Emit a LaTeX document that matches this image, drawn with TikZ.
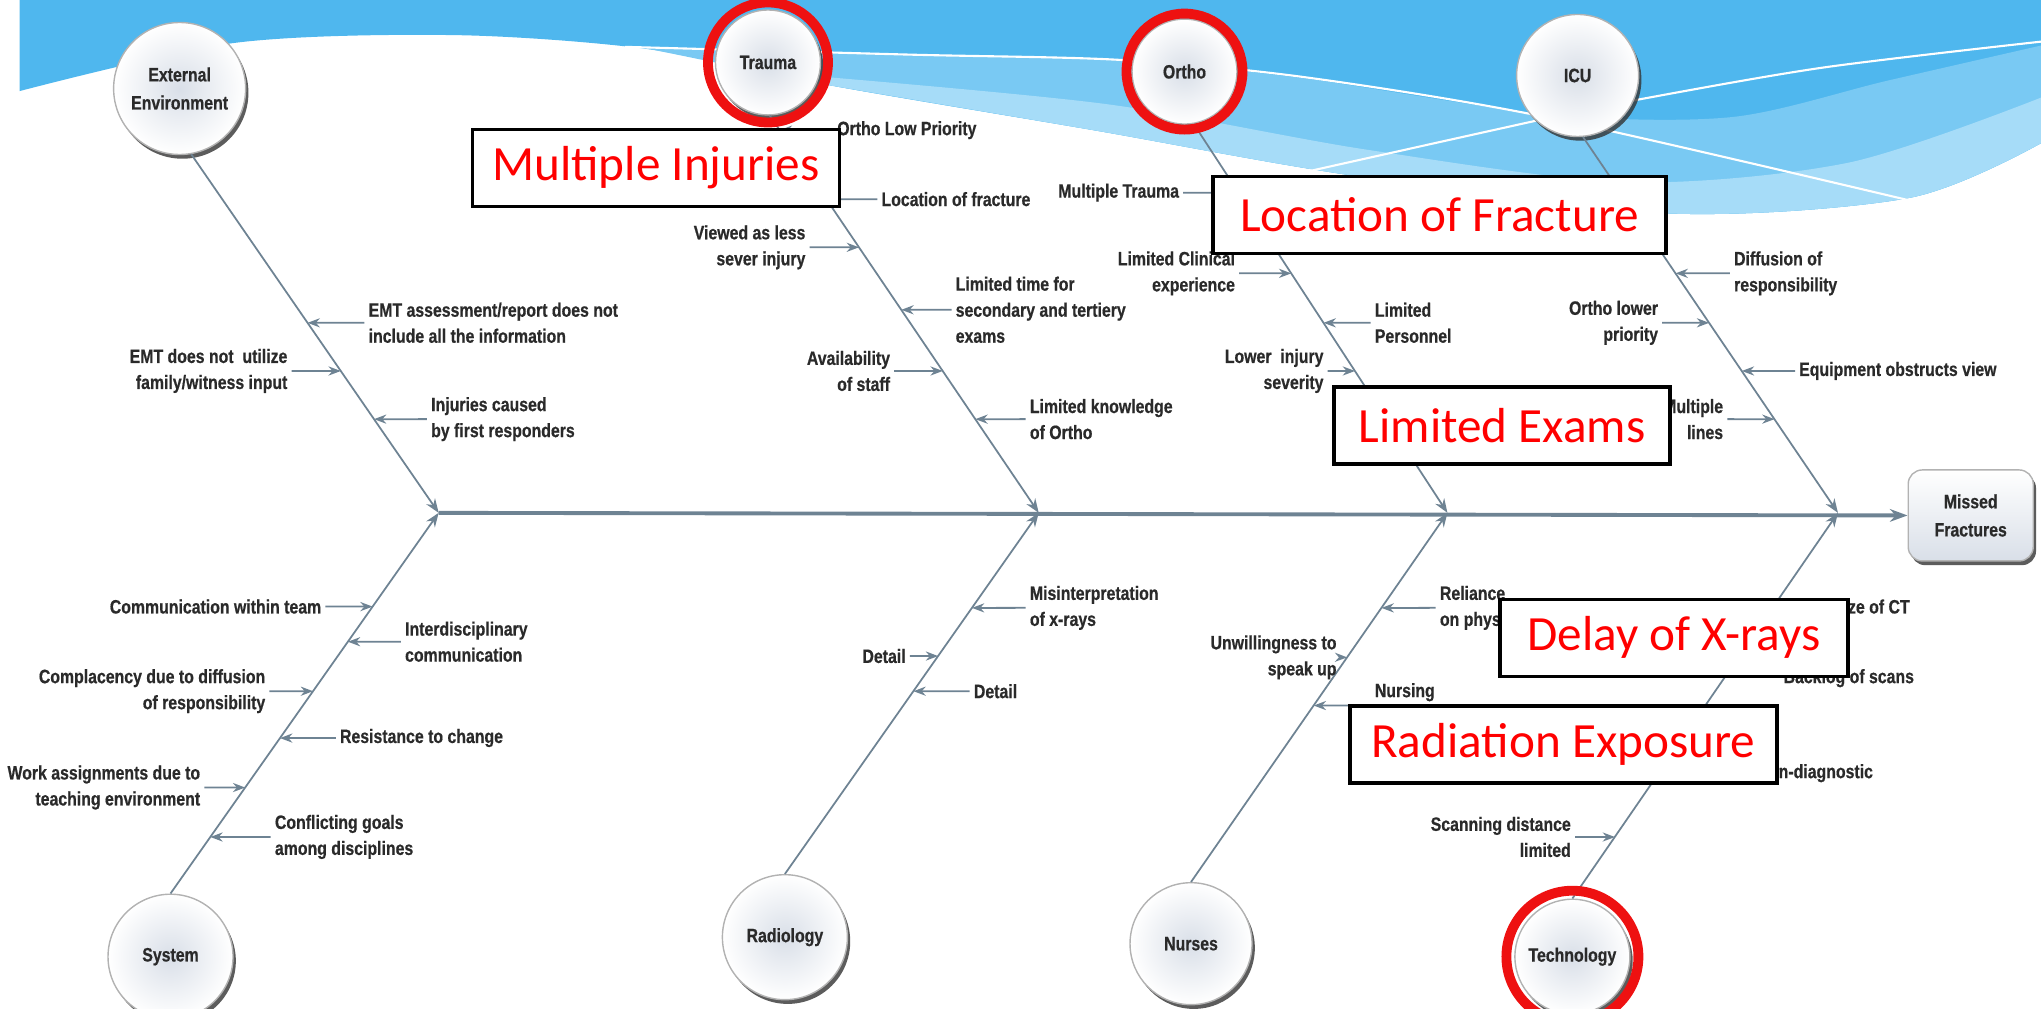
\documentclass[tikz,border=0pt]{standalone}
\usepackage{fontspec}
\setmainfont{Liberation Sans}[FakeStretch=0.82,BoldFeatures={FakeBold=0.6}]
\newfontfamily\calibri{Carlito}
\usetikzlibrary{arrows.meta,shadows}
\definecolor{bonegray}{HTML}{6E8393}
\definecolor{txtgray}{HTML}{2A2A2A}
\definecolor{shadecore}{HTML}{D9DFE8}
\definecolor{skydark}{HTML}{4FB7EE}
\definecolor{skymid}{HTML}{79C9F3}
\definecolor{skylight}{HTML}{A6DCF8}
\definecolor{ringred}{HTML}{EE1111}
\tikzset{
  lbl/.style={font=\fontsize{5.5}{7.4}\selectfont\bfseries,text=txtgray,inner sep=1pt},
  lblL/.style={lbl,anchor=east,align=right},
  lblR/.style={lbl,anchor=west,align=left},
  bone/.style={bonegray,line width=0.5pt,-{Stealth[length=4pt,width=3pt]}},
  twig/.style={bonegray,line width=0.5pt,-{Stealth[length=3.5pt,width=2.6pt]}},
  spine/.style={bonegray,line width=1.1pt,-{Stealth[length=5pt,width=3.6pt]}},
  cause/.style={circle,minimum size=1.22cm,inner sep=0pt,draw=gray!60,line width=0.4pt,
    inner color=shadecore,outer color=white,
    drop shadow={shadow xshift=0.8pt,shadow yshift=-1.2pt,opacity=0.8,fill=black!80},
    font=\fontsize{5.5}{8}\selectfont\bfseries,text=txtgray,align=center},
  ring/.style={ringred,line width=2.8pt},
  effect/.style={rectangle,rounded corners=4pt,minimum width=1.25cm,minimum height=0.91cm,
    draw=gray!60,line width=0.4pt,top color=white,bottom color=shadecore,
    drop shadow={shadow xshift=0.8pt,shadow yshift=-1.2pt,opacity=0.8,fill=black!80},
    font=\fontsize{5.5}{8}\selectfont\bfseries,text=txtgray,align=center},
  redbox/.style={draw=black,line width=1pt,fill=white,text=red,inner sep=0pt,
    font=\calibri\fontsize{14}{16}\selectfont,minimum height=0.77cm}
}
\begin{document}
\begin{tikzpicture}[x=0.013017cm,y=-0.013017cm]
\useasboundingbox (0,0) rectangle (1568,775);
% sky
\fill[skydark] plot[smooth] coordinates {(15,70) (180,33) (350,27) (500,38) (640,66)
  (840,100) (1040,135) (1282,164) (1467,152) (1568,110)} -- (1568,0) -- (15,0) -- cycle;
\fill[skymid] plot[smooth] coordinates {(480,36) (700,42) (860,46) (1000,60) (1190,88)
  (1330,90) (1450,62) (1568,35)} -- (1568,110)
  -- plot[smooth] coordinates {(1568,110) (1467,152) (1282,164) (1040,135) (840,100)
  (640,66) (500,38) (480,36)} -- cycle;
\fill[skylight] plot[smooth] coordinates {(620,58) (850,80) (1050,115) (1250,140)
  (1420,125) (1568,75)} -- (1568,110)
  -- plot[smooth] coordinates {(1568,110) (1467,152) (1282,164) (1040,135) (840,100)
  (640,66) (620,62)} -- cycle;
\draw[white,line width=0.6pt] plot[smooth] coordinates {(480,36) (700,42) (860,46)
  (1000,59) (1188,90) (1467,154)};
\draw[white,line width=0.6pt] plot[smooth] coordinates {(999,133) (1188,91) (1256,77)
  (1400,52) (1568,32)};
%
% head and spine
\node[effect] (mf) at (1514,396) {Missed\\Fractures};
\coordinate (s1) at (337,394);
\coordinate (s2) at (798,394);
\coordinate (s3) at (1112,394);
\coordinate (s4) at (1412,394);
\draw[spine] (s1) -- (mf.west);
%
% categories
\node[cause,minimum size=1.32cm] (extenv) at (138,68) {External\\Environment};
\node[cause,minimum size=1.05cm] (trauma) at (590,48) {Trauma};
\node[cause,minimum size=1.05cm] (ortho) at (910,55) {Ortho};
\node[cause] (icu) at (1212,58) {ICU};
\node[cause,minimum size=1.25cm] (system) at (131,735) {System};
\node[cause,minimum size=1.25cm] (radiology) at (603,720) {Radiology};
\node[cause] (nurses) at (915,725) {Nurses};
\node[cause,minimum size=1.15cm] (technology) at (1208,735) {Technology};
%
\coordinate (b1) at (extenv.-80);
\coordinate (b2) at (trauma.-88);
\coordinate (b3) at (ortho.-80);
\coordinate (b4) at (icu.-85);
\coordinate (b5) at (system.north);
\coordinate (b6) at (radiology.north);
\coordinate (b7) at (nurses.north);
\coordinate (b8) at (technology.north);
\draw[bone] (b1) -- (s1);
\draw[bone] (b2) -- (s2);
\draw[bone] (b3) -- (s3);
\draw[bone] (b4) -- (s4);
\draw[bone] (b5) -- (s1);
\draw[bone] (b6) -- (s2);
\draw[bone] (b7) -- (s3);
\draw[bone] (b8) -- (s4);
%
% External Environment
\node[lblR] (ee1) at (280,248) {EMT assessment/report does not\\include all the information};
\node[lblL] (ee2) at (224,285) {EMT does not~ utilize\\family/witness input};
\node[lblR] (ee3) at (328,322) {Injuries caused\\by first responders};
\draw[twig] (ee1.west) -- (intersection of b1--s1 and ee1.west--ee1.east);
\draw[twig] (ee2.east) -- (intersection of b1--s1 and ee2.west--ee2.east);
\draw[twig] (ee3.west) -- (intersection of b1--s1 and ee3.west--ee3.east);
%
% Trauma
\node[lblR] (tr1) at (640,100) {Ortho Low Priority};
\node[lblR] (tr2) at (674,153) {Location of fracture};
\node[lblL] (tr3) at (622,190) {Viewed as less\\sever injury};
\node[lblR] (tr4) at (731,238) {Limited time for\\secondary and tertiery\\exams};
\node[lblL] (tr5) at (687,285) {Availability\\of staff};
\node[lblR] (tr6) at (788,322) {Limited knowledge\\of Ortho};
\draw[twig] (tr1.west) -- (intersection of b2--s2 and tr1.west--tr1.east);
\draw[twig] (tr2.west) -- (intersection of b2--s2 and tr2.west--tr2.east);
\draw[twig] (tr3.east) -- (intersection of b2--s2 and tr3.west--tr3.east);
\draw[twig] (tr4.west) -- (intersection of b2--s2 and tr4.west--tr4.east);
\draw[twig] (tr5.east) -- (intersection of b2--s2 and tr5.west--tr5.east);
\draw[twig] (tr6.west) -- (intersection of b2--s2 and tr6.west--tr6.east);
%
% Ortho
\node[lblL] (or1) at (909,148) {Multiple Trauma};
\node[lblL] (or2) at (952,210) {Limited Clinical\\experience};
\node[lblR] (or3) at (1053,248) {Limited\\Personnel};
\node[lblL] (or4) at (1020,285) {Lower~ injury\\severity};
\draw[twig] (or1.east) -- (intersection of b3--s3 and or1.west--or1.east);
\draw[twig] (or2.east) -- (intersection of b3--s3 and or2.west--or2.east);
\draw[twig] (or3.west) -- (intersection of b3--s3 and or3.west--or3.east);
\draw[twig] (or4.east) -- (intersection of b3--s3 and or4.west--or4.east);
%
% ICU
\node[lblR] (ic1) at (1329,210) {Diffusion of\\responsibility};
\node[lblL] (ic2) at (1277,248) {Ortho lower\\priority};
\node[lblR] (ic3) at (1379,285) {Equipment obstructs view};
\node[lblL] (ic4) at (1327,322) {Multiple\\lines};
\draw[twig] (ic1.west) -- (intersection of b4--s4 and ic1.west--ic1.east);
\draw[twig] (ic2.east) -- (intersection of b4--s4 and ic2.west--ic2.east);
\draw[twig] (ic3.west) -- (intersection of b4--s4 and ic3.west--ic3.east);
\draw[twig] (ic4.east) -- (intersection of b4--s4 and ic4.west--ic4.east);
%
% System
\node[lblL] (sy1) at (250,466) {Communication within team};
\node[lblR] (sy2) at (308,493) {Interdisciplinary\\communication};
\node[lblL] (sy3) at (207,531) {Complacency due to diffusion\\of responsibility};
\node[lblR] (sy4) at (258,567) {Resistance to change};
\node[lblL] (sy5) at (157,605) {Work assignments due to\\teaching environment};
\node[lblR] (sy6) at (208,643) {Conflicting goals\\among disciplines};
\draw[twig] (sy1.east) -- (intersection of b5--s1 and sy1.west--sy1.east);
\draw[twig] (sy2.west) -- (intersection of b5--s1 and sy2.west--sy2.east);
\draw[twig] (sy3.east) -- (intersection of b5--s1 and sy3.west--sy3.east);
\draw[twig] (sy4.west) -- (intersection of b5--s1 and sy4.west--sy4.east);
\draw[twig] (sy5.east) -- (intersection of b5--s1 and sy5.west--sy5.east);
\draw[twig] (sy6.west) -- (intersection of b5--s1 and sy6.west--sy6.east);
%
% Radiology
\node[lblR] (ra1) at (788,467) {Misinterpretation\\of x-rays};
\node[lblL] (ra2) at (699,504) {Detail};
\node[lblR] (ra3) at (745,531) {Detail};
\draw[twig] (ra1.west) -- (intersection of b6--s2 and ra1.west--ra1.east);
\draw[twig] (ra2.east) -- (intersection of b6--s2 and ra2.west--ra2.east);
\draw[twig] (ra3.west) -- (intersection of b6--s2 and ra3.west--ra3.east);
%
% Nurses
\node[lblR] (nu1) at (1103,467) {Reliance\\on physicians};
\node[lblL] (nu2) at (1030,505) {Unwillingness to\\speak up};
\node[lbl,anchor=south west] (nu3) at (1053,542) {Nursing};
\draw[twig] (nu1.west) -- (intersection of b7--s3 and nu1.west--nu1.east);
\draw[twig] (nu2.east) -- (intersection of b7--s3 and nu2.west--nu2.east);
\draw[twig] (nu3.south west) -- (intersection of b7--s3 and nu3.south west--nu3.south east);
%
% Technology
\node[lblR] (te1) at (1405,466) {Size of CT};
\node[lblR] (te2) at (1367,521) {Backlog of scans};
\node[lblR] (te3) at (1347,594) {Non-diagnostic};
\node[lblL] (te4) at (1210,643) {Scanning distance\\limited};
\draw[twig] (te1.west) -- (intersection of b8--s4 and te1.west--te1.east);
\draw[twig] (te2.north west) -- (intersection of b8--s4 and te2.north west--te2.north east);
\draw[twig] (te3.west) -- (intersection of b8--s4 and te3.west--te3.east);
\draw[twig] (te4.east) -- (intersection of b8--s4 and te4.west--te4.east);
%
% highlighted categories
\draw[ring] (trauma.center) circle[radius=0.6cm];
\draw[ring] (ortho.center) circle[radius=0.58cm];
\draw[ring] (technology.center) circle[radius=0.66cm];
%
% root causes
\node[redbox,minimum width=3.67cm] (mi) at (504,129) {Multiple Injuries};
\node[redbox,minimum width=4.53cm] (lof) at (1106,165) {Location of Fracture};
\node[redbox,minimum width=3.36cm] (le) at (1154,327) {Limited Exams};
\node[redbox,minimum width=3.48cm] (dx) at (1286,490) {Delay of X-rays};
\node[redbox,minimum width=4.27cm] (re) at (1201,572) {Radiation Exposure};
\end{tikzpicture}
\end{document}
